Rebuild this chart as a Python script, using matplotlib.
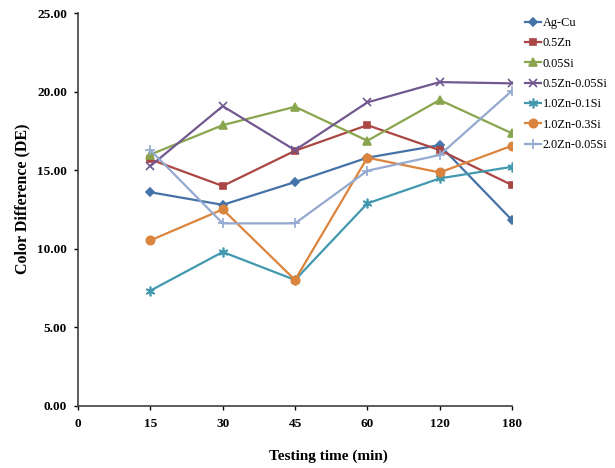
import matplotlib.pyplot as plt
import numpy as np

# Testing time categories (min)
times = ['15', '30', '45', '60', '120', '180']
tick_labels = ['0', '15', '30', '45', '60', '120', '180']

ag_cu = [13.60, 12.80, 14.25, 15.80, 16.60, 11.83]
zn05 = [15.69, 14.00, 16.24, 17.87, 16.28, 14.06]
si005 = [16.00, 17.87, 19.04, 16.88, 19.47, 17.35]
zn05_si005 = [15.27, 19.08, 16.28, 19.32, 20.61, 20.53]
zn10_si01 = [7.34, 9.80, 8.02, 12.89, 14.48, 15.22]
zn10_si03 = [10.54, 12.51, 8.02, 15.80, 14.86, 16.56]
zn20_si005 = [16.28, 11.62, 11.62, 14.97, 15.97, 20.06]

series = [
	('Ag-Cu', ag_cu, '#4572A7', 'D', 4),
	('0.5Zn', zn05, '#AA4643', 's', 5),
	('0.05Si', si005, '#89A54E', '^', 5.5),
	('0.5Zn-0.05Si', zn05_si005, '#71588F', 'x', 6),
	('1.0Zn-0.1Si', zn10_si01, '#4198AF', (6, 2, 0), 7),
	('1.0Zn-0.3Si', zn10_si03, '#DB843D', 'o', 6),
	('2.0Zn-0.05Si', zn20_si005, '#93A9CF', '+', 7),
]

plt.rcParams['font.family'] = ['Liberation Serif', 'DejaVu Serif']

fig = plt.figure(figsize=(6.15, 4.68), dpi=100)
ax = fig.add_axes([0.127, 0.1325, 0.7055, 0.8395])

x = np.arange(1, len(times) + 1)
for name, vals, color, marker, ms in series:
	ax.plot(x, vals, color=color, marker=marker, markersize=ms, linewidth=1.6,
		markeredgewidth=1.2, label=name)

ax.set_xlim(0, 6)
ax.set_ylim(0, 25)
ax.set_xticks(np.arange(0, 7))
ax.set_xticklabels(tick_labels, fontsize=9.5, fontweight='bold')
ax.set_yticks(np.arange(0, 26, 5))
ax.set_yticklabels(['%.2f' % v for v in np.arange(0, 26, 5)], fontsize=9.5, fontweight='bold')
ax.tick_params(axis='y', direction='out', length=3, width=1, pad=5)
ax.tick_params(axis='x', direction='out', length=3, width=1, pad=6)
for s in ['top', 'right']:
	ax.spines[s].set_visible(False)
for s in ['left', 'bottom']:
	ax.spines[s].set_linewidth(1.2)
	ax.spines[s].set_color('#404040')

# axis titles sit a bit off centre in the original
ax.set_xlabel('Testing time (min)', fontsize=11, fontweight='bold', labelpad=14, x=0.576)
ax.set_ylabel('Color Difference (DE)', fontsize=11.5, fontweight='bold', labelpad=5, y=0.527)

ax.legend(loc='upper left', bbox_to_anchor=(1.03, 0.99), frameon=False, fontsize=8.8,
	handlelength=1.3, handletextpad=0.15, labelspacing=0.68, borderaxespad=0, borderpad=0)

plt.savefig('out.png', dpi=100)
